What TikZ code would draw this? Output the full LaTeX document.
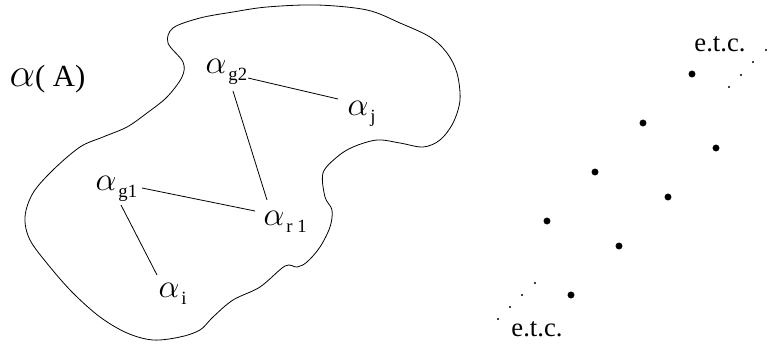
\documentclass[tikz,border=0pt]{standalone}
\usepackage{fontspec}
\usepackage{graphicx}
\setmainfont{Liberation Serif}
\newcommand\al{{\fontsize{24.88}{25}\selectfont$\alpha$}}
\newcommand\lsub[1]{\raisebox{-0.28em}{\fontsize{14}{14}\selectfont\hspace{1.5pt}#1}}
\tikzset{
  lbl/.style={inner sep=1pt, anchor=base west, font=\fontsize{21}{21}\selectfont},
  etc/.style={inner sep=0pt, font=\fontsize{20}{20}\selectfont},
  bigdot/.style={circle, fill, inner sep=0pt, minimum size=5.2pt},
  smalldot/.style={circle, fill, inner sep=0pt, minimum size=1.6pt},
  edge/.style={line width=0.6pt}
}
\begin{document}
\begin{tikzpicture}[x=0.75pt,y=-0.75pt]
\useasboundingbox (0,0) rectangle (776,350);
% outline
\draw[edge] plot[smooth cycle, tension=0.55] coordinates {
(183,62) (182,77) (167,97) (147,113) (127,127) (103,137) (80,147) (53,170)
(33,193) (25,217) (30,240) (50,267) (73,293) (100,317) (127,333) (153,340)
(180,337) (200,330) (213,317) (233,300) (260,287) (285,266) (297,267) (307,262)
(320,247) (330,227) (332,210) (325,197) (323,173) (337,157) (353,147) (377,140)
(400,143) (423,147) (440,140) (453,123) (460,100) (457,73) (447,53) (430,37)
(400,23) (367,10) (317,5) (267,7) (233,12) (200,18) (173,28) (168,43)};
% labels
\node[lbl] (A) at (8,86) {\scalebox{1.22}{\al}{\fontsize{23}{23}\selectfont( A)}};
\node[lbl] (g2) at (204,73) {\al\lsub{g2}};
\node[lbl] (j) at (346,115) {\al\lsub{j}};
\node[lbl] (g1) at (94,190) {\al\lsub{g1}};
\node[lbl] (r1) at (262,225) {\al\lsub{r 1}};
\node[lbl] (i) at (157,297) {\al\lsub{i}};
% edges
\draw[edge] ([shift={(44,5)}]g2.base west) -- ([shift={(-8,-16)}]j.base west);
\draw[edge] ([shift={(29,18)}]g2.base west) -- ([shift={(5,-25)}]r1.base west);
\draw[edge] ([shift={(48,-2)}]g1.base west) -- ([shift={(-7,-14)}]r1.base west);
\draw[edge] ([shift={(27,15)}]g1.base west) -- ([shift={(0,-22)}]i.base west);
% dots
\node[bigdot] (d1) at (692,74) {};
\node[bigdot] (d2) at (643,123) {};
\node[bigdot] (d3) at (716,148) {};
\node[bigdot] (d4) at (595,172) {};
\node[bigdot] (d5) at (668,197) {};
\node[bigdot] (d6) at (547,221) {};
\node[bigdot] (d7) at (619,246) {};
\node[bigdot] (d8) at (571,295) {};
\node[smalldot] (s1) at (766,50) {};
\node[smalldot] (s2) at (753,62) {};
\node[smalldot] (s3) at (741,75) {};
\node[smalldot] (s4) at (729,87) {};
\node[smalldot] (s5) at (535,283) {};
\node[smalldot] (s6) at (522,295) {};
\node[smalldot] (s7) at (510,307) {};
\node[smalldot] (s8) at (498,319) {};
\node[etc] (e1) at (720,44) {e.t.c.};
\node[etc] (e2) at (537,329) {e.t.c.};
\end{tikzpicture}
\end{document}
